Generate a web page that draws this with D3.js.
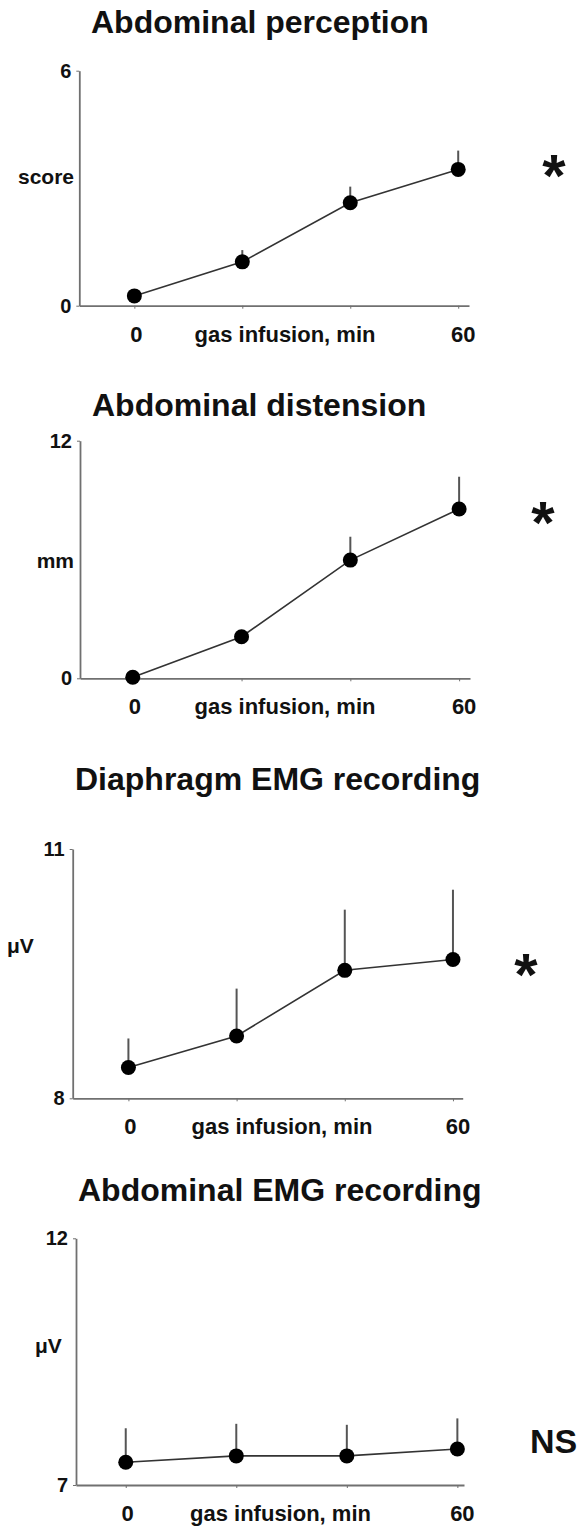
<!DOCTYPE html>
<html>
<head>
<meta charset="utf-8">
<script src="https://cdn.jsdelivr.net/npm/d3@7/dist/d3.min.js"></script>
<style>
  html, body { margin: 0; padding: 0; background: #fff; }
  svg { display: block; }
  text { font-family: "Liberation Sans", Arial, Helvetica, sans-serif; font-weight: bold; fill: #111; }
</style>
</head>
<body>
<svg id="chart" width="586" height="1526"></svg>
<script>
// Time points of gas infusion (min)
const times = [0, 20, 40, 60];

// Mean values and upper SEM for each recording
const perceptionMean = [0.25, 1.12, 2.63, 3.48];
const perceptionSem  = [0.10, 0.30, 0.41, 0.48];

const distensionMean = [0.05, 2.10, 5.97, 8.55];
const distensionSem  = [0.10, 0.30, 1.18, 1.63];

const diaphragmMean = [8.37, 8.75, 9.54, 9.67];
const diaphragmSem  = [0.35, 0.57, 0.73, 0.84];

const abdominalEmgMean = [7.46, 7.59, 7.59, 7.73];
const abdominalEmgSem  = [0.69, 0.65, 0.63, 0.62];

// Text shown on each panel
const panelTitles = ["Abdominal perception", "Abdominal distension", "Diaphragm EMG recording", "Abdominal EMG recording"];
const unitLabels = ["score", "mm", "\u03bcV", "\u03bcV"];
const yTickValues = [[0, 6], [0, 12], [8, 11], [7, 12]];
const xTickLabels = ["0", "60"];
const xAxisTitle = "gas infusion, min";
const significance = ["*", "*", "*", "NS"];

const series = [
  { mean: perceptionMean, sem: perceptionSem },
  { mean: distensionMean, sem: distensionSem },
  { mean: diaphragmMean, sem: diaphragmSem },
  { mean: abdominalEmgMean, sem: abdominalEmgSem }
];

// Geometry of each panel
const layout = [
  { left: 79.3, right: 469, top: 70.7, bottom: 305.7, xDom: [-10.2, 62], titleX: 91, titleY: 33,
    unitX: 74, unitY: 184, unitAnchor: "end", xLabelCenter: 285, sigX: 554, sigY: 161 },
  { left: 80, right: 470, top: 440.7, bottom: 678.3, xDom: [-9.7, 62], titleX: 92, titleY: 416,
    unitX: 74, unitY: 568, unitAnchor: "end", xLabelCenter: 285, sigX: 543, sigY: 508 },
  { left: 72.7, right: 462.7, top: 849, bottom: 1098.3, xDom: [-10.3, 61.8], titleX: 75, titleY: 790,
    unitX: 7, unitY: 953, unitAnchor: "start", xLabelCenter: 282, sigX: 526, sigY: 960 },
  { left: 76, right: 464, top: 1238.3, bottom: 1485, xDom: [-9, 61.2], titleX: 78, titleY: 1201,
    unitX: 35, unitY: 1353, unitAnchor: "start", xLabelCenter: 280.5, sigX: 552, sigY: 1441 }
];

const svg = d3.select("#chart");
const axisColor = "#707070";
const lineColor = "#333";

series.forEach((s, i) => {
  const L = layout[i];
  const g = svg.append("g");
  const yDom = yTickValues[i];

  const x = d3.scaleLinear().domain(L.xDom).range([L.left, L.right]);
  const y = d3.scaleLinear().domain(yDom).range([L.bottom, L.top]);

  // Axes
  const xAxis = g.append("g")
    .attr("transform", `translate(0,${L.bottom})`)
    .call(d3.axisBottom(x).tickValues(times).tickSize(3).tickSizeOuter(0).tickFormat(""));
  xAxis.select(".domain").attr("stroke", axisColor).attr("stroke-width", 1.8);
  xAxis.selectAll(".tick line").attr("stroke", axisColor).attr("stroke-width", 1);

  const yAxis = g.append("g")
    .attr("transform", `translate(${L.left},0)`)
    .call(d3.axisLeft(y).tickValues(yDom).tickSize(3).tickSizeOuter(0).tickFormat(""));
  yAxis.select(".domain").attr("stroke", axisColor).attr("stroke-width", 1.8);
  yAxis.selectAll(".tick line").attr("stroke", axisColor).attr("stroke-width", 1);

  // Y tick labels at the ends of the axis
  g.selectAll(".ylab").data(yDom).join("text")
    .attr("x", L.left - 8)
    .attr("y", d => y(d) + 7)
    .attr("text-anchor", "end")
    .attr("font-size", 20)
    .text(d => d);

  // Unit label
  g.append("text")
    .attr("x", L.unitX).attr("y", L.unitY)
    .attr("text-anchor", L.unitAnchor)
    .attr("font-size", 21)
    .text(unitLabels[i]);

  // X labels: first and last time points and the axis title
  const xBase = L.bottom + 36;
  g.append("text").attr("x", x(times[0]) + 2).attr("y", xBase)
    .attr("text-anchor", "middle").attr("font-size", 22).text(xTickLabels[0]);
  g.append("text").attr("x", x(times[times.length - 1]) + 5).attr("y", xBase)
    .attr("text-anchor", "middle").attr("font-size", 22).text(xTickLabels[1]);
  g.append("text").attr("x", L.xLabelCenter).attr("y", xBase)
    .attr("text-anchor", "middle").attr("font-size", 22).text(xAxisTitle);

  // Title
  g.append("text").attr("x", L.titleX).attr("y", L.titleY)
    .attr("font-size", 32).text(panelTitles[i]);

  const pts = times.map((t, k) => ({ t, m: s.mean[k], e: s.sem[k] }));

  // Upper error bars
  g.selectAll(".err").data(pts).join("line")
    .attr("x1", d => x(d.t)).attr("x2", d => x(d.t))
    .attr("y1", d => y(d.m)).attr("y2", d => y(d.m + d.e))
    .attr("stroke", "#555").attr("stroke-width", 2);

  // Connecting line
  g.append("path").datum(pts)
    .attr("fill", "none").attr("stroke", lineColor).attr("stroke-width", 1.6)
    .attr("d", d3.line().x(d => x(d.t)).y(d => y(d.m)));

  // Mean markers
  g.selectAll(".dot").data(pts).join("circle")
    .attr("cx", d => x(d.t)).attr("cy", d => y(d.m)).attr("r", 7.5)
    .attr("fill", "#000");

  // Significance marker
  if (significance[i] === "*") {
    g.append("text").attr("x", L.sigX).attr("y", L.sigY + 35)
      .attr("text-anchor", "middle").attr("font-size", 60).text(significance[i]);
  } else {
    g.append("text").attr("x", 530).attr("y", L.sigY + 12)
      .attr("font-size", 34).text(significance[i]);
  }
});
</script>
</body>
</html>
